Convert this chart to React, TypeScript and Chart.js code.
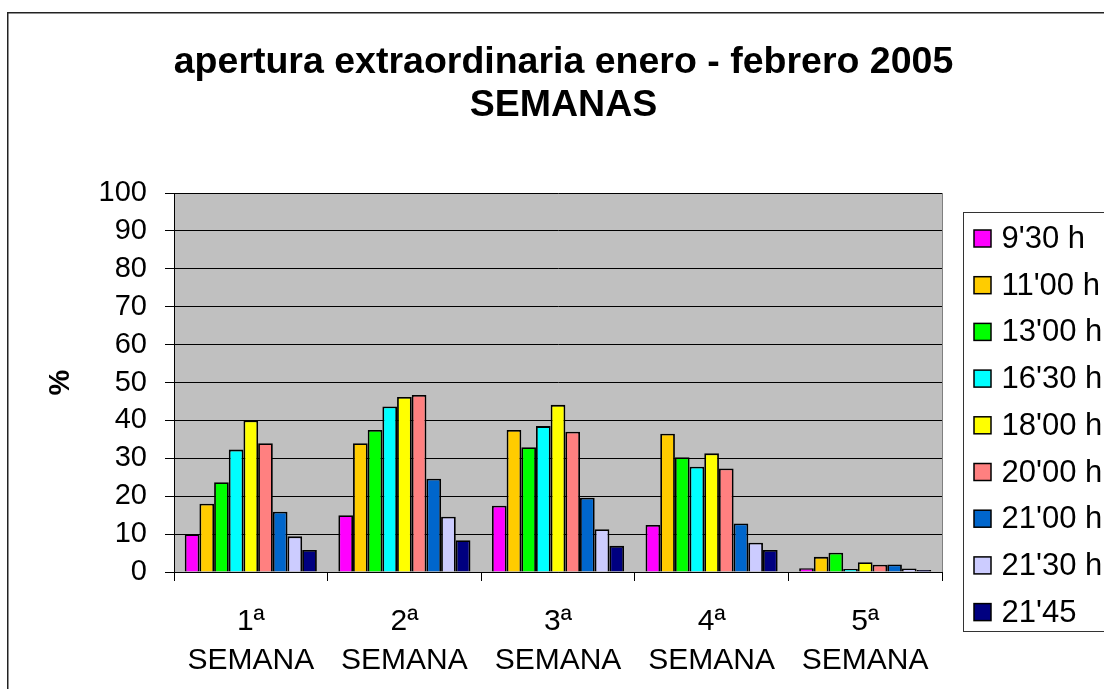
import React, { useEffect, useRef } from "react";
import { Chart, registerables } from "chart.js";

Chart.register(...registerables);

const categories: string[][] = [
  ["1ª", "SEMANA"],
  ["2ª", "SEMANA"],
  ["3ª", "SEMANA"],
  ["4ª", "SEMANA"],
  ["5ª", "SEMANA"],
];

const seriesLabels = ["9'30 h", "11'00 h", "13'00 h", "16'30 h", "18'00 h", "20'00 h", "21'00 h", "21'30 h", "21'45"];
const seriesColors = ["#FF00FF", "#FFCC00", "#00FF00", "#00FFFF", "#FFFF00", "#FF8080", "#0066CC", "#CCCCFF", "#000080"];

const s0930 = [10, 15, 17.5, 12.4, 1.0];
const s1100 = [18, 34, 37.5, 36.5, 4.0];
const s1300 = [23.7, 37.5, 32.9, 30.3, 5.1];
const s1630 = [32.3, 43.7, 38.5, 27.8, 0.8];
const s1800 = [40, 46.2, 44.1, 31.3, 2.6];
const s2000 = [34, 46.7, 37, 27.3, 1.9];
const s2100 = [15.9, 24.6, 19.6, 12.8, 2.0];
const s2130 = [9.4, 14.6, 11.3, 7.7, 0.9];
const s2145 = [5.8, 8.4, 6.9, 5.8, 0.5];

const seriesValues = [s0930, s1100, s1300, s1630, s1800, s2000, s2100, s2130, s2145];

const titleLines = ["apertura extraordinaria enero - febrero 2005", "SEMANAS"];
const yTitle = "%";

const FONT = "'Liberation Sans', Arial, sans-serif";

const W = 1097;
const H = 677;

const framePlugin = {
  id: "frame",
  beforeDraw(chart: any) {
    const { ctx, chartArea } = chart;
    ctx.save();
    ctx.fillStyle = "#FFFFFF";
    ctx.fillRect(0, 0, chart.width, chart.height);
    ctx.fillStyle = "#C0C0C0";
    ctx.fillRect(chartArea.left, chartArea.top, chartArea.right - chartArea.left, chartArea.bottom - chartArea.top);
    ctx.restore();
  },
  beforeDatasetsDraw(chart: any) {
    const { ctx, chartArea } = chart;
    ctx.save();
    ctx.strokeStyle = "#808080";
    ctx.lineWidth = 1;
    ctx.beginPath();
    ctx.moveTo(Math.round(chartArea.right) + 0.5, chartArea.top);
    ctx.lineTo(Math.round(chartArea.right) + 0.5, chartArea.bottom);
    ctx.stroke();
    ctx.restore();
  },
  afterDraw(chart: any) {
    const { ctx } = chart;
    ctx.save();
    // outer border (top & left)
    ctx.strokeStyle = "#222";
    ctx.lineWidth = 1.5;
    ctx.beginPath();
    ctx.moveTo(0.75, chart.height);
    ctx.lineTo(0.75, 0.75);
    ctx.lineTo(chart.width, 0.75);
    ctx.stroke();

    // legend
    const lx = 956.5;
    const ly = 200.5;
    ctx.strokeStyle = "#333";
    ctx.lineWidth = 1;
    ctx.strokeRect(lx, ly, 200, 419);
    ctx.font = `31px ${FONT}`;
    ctx.textBaseline = "middle";
    ctx.textAlign = "left";
    const datasets = chart.data.datasets;
    for (let i = 0; i < datasets.length; i++) {
      const cy = 226.5 + i * 46.7;
      ctx.fillStyle = datasets[i].backgroundColor;
      ctx.fillRect(967, cy - 8.5, 17, 17);
      ctx.strokeStyle = "#000";
      ctx.lineWidth = 1.5;
      ctx.strokeRect(967, cy - 8.5, 17, 17);
      ctx.fillStyle = "#000";
      ctx.fillText(datasets[i].label, 994.5, cy + 1);
    }
    ctx.restore();
  },
};

export default function App() {
  const ref = useRef<HTMLCanvasElement | null>(null);

  useEffect(() => {
    if (!ref.current) return;
    const chart = new Chart(ref.current, {
      type: "bar",
      data: {
        labels: categories,
        datasets: seriesLabels.map((label, i) => ({
          label,
          data: seriesValues[i],
          backgroundColor: seriesColors[i],
          borderColor: "#000000",
          borderWidth: 1.8,
          categoryPercentage: 0.86,
          barPercentage: 1.0,
        })),
      },
      options: {
        responsive: false,
        animation: false,
        devicePixelRatio: 1,
        layout: { padding: { left: 16, right: 0, top: 0, bottom: 0 } },
        plugins: {
          legend: { display: false },
          tooltip: { enabled: false },
          title: {
            display: true,
            text: titleLines,
            color: "#000",
            font: { family: FONT, size: 37.5, weight: "bold", lineHeight: 1.16 },
            padding: { top: 28.5, bottom: 65.5 },
          },
        },
        scales: {
          x: {
            offset: true,
            grid: {
              offset: true,
              drawOnChartArea: false,
              drawTicks: true,
              tickLength: 9,
              color: "#000",
              tickColor: "#000",
            },
            border: { display: true, color: "#000", width: 1 },
            ticks: {
              color: "#000",
              autoSkip: false,
              maxRotation: 0,
              minRotation: 0,
              padding: 21,
              font: { family: FONT, size: 30, lineHeight: 1.3 },
            },
            afterFit(scale: any) {
              scale.height = 117;
            },
          },
          y: {
            min: 0,
            max: 100,
            position: "left",
            grid: {
              color: "#000",
              tickColor: "#000",
              drawTicks: true,
              tickLength: 9,
              lineWidth: 1,
            },
            border: { display: true, color: "#000", width: 1 },
            ticks: {
              stepSize: 10,
              color: "#000",
              padding: 18,
              font: { family: FONT, size: 29 },
            },
            title: {
              display: true,
              text: yTitle,
              color: "#000",
              font: { family: FONT, size: 29, weight: "bold", lineHeight: 1.2 },
              padding: { top: 21, bottom: 0 },
            },
            afterFit(scale: any) {
              scale.width = 151;
            },
          },
          yR: {
            type: "linear",
            position: "right",
            display: true,
            grid: { display: false, drawTicks: false },
            border: { display: false },
            ticks: { display: false },
            afterFit(scale: any) {
              scale.width = 162;
            },
          },
        },
      } as any,
      plugins: [framePlugin],
    });
    return () => chart.destroy();
  }, []);

  return (
    <div style={{ position: "absolute", left: 7, top: 12, width: W, height: H, overflow: "hidden" }}>
      <canvas ref={ref} width={W} height={H} style={{ display: "block", width: W, height: H }} />
    </div>
  );
}
